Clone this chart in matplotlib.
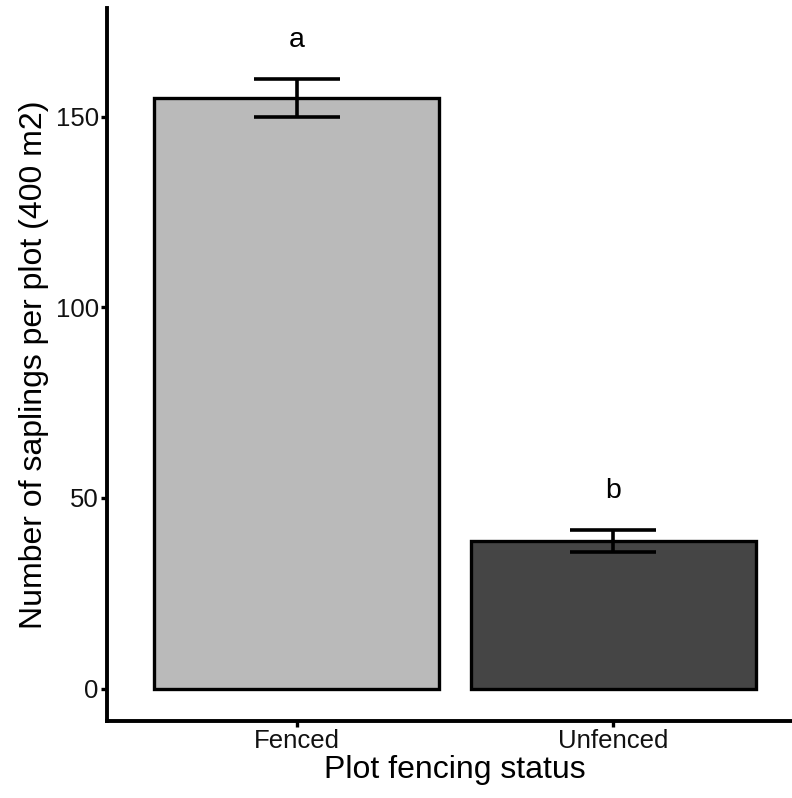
import matplotlib
matplotlib.use('Agg')
import matplotlib.pyplot as plt

# ── data ──
categories = ['Fenced', 'Unfenced']
means      = [155.0, 38.7]
se         = [5.0, 3.0]
letters    = ['a', 'b']
letter_y   = [170.0, 51.7]
y_ticks    = [0, 50, 100, 150]
bar_colors = ['#bababa', '#454545']

plt.rcParams['font.family'] = ['Liberation Sans', 'DejaVu Sans']

fig = plt.figure(figsize=(7.92, 7.98), dpi=100)
# panel runs slightly past the right edge, as in the reference
ax = fig.add_axes([107 / 792, 77 / 798, 696 / 792, 713 / 798])

x = list(range(1, len(categories) + 1))
ax.bar(x, means, width=0.9, color=bar_colors, edgecolor='black', linewidth=2.4, zorder=2)
ax.errorbar(x, means, yerr=se, fmt='none', ecolor='black', elinewidth=2.6,
            capsize=31, capthick=2.6, zorder=3)
for xi, lab, yy in zip(x, letters, letter_y):
    ax.text(xi, yy, lab, ha='center', va='center', fontsize=20.5, color='black')

ax.set_xlim(0.4, 2.6)
ax.set_ylim(-8.5, 178.5)
ax.set_xticks(x)
ax.set_xticklabels(categories)
ax.set_yticks(y_ticks)

for side in ['top', 'right']:
    ax.spines[side].set_visible(False)
for side in ['left', 'bottom']:
    ax.spines[side].set_linewidth(2.8)
    ax.spines[side].set_capstyle('projecting')
ax.tick_params(axis='both', length=4, width=2.4, color='black', labelsize=18.5,
               labelcolor='#111111', pad=2)

ax.set_xlabel('Plot fencing status', fontsize=23, labelpad=1)
ax.set_ylabel('Number of saplings per plot (400 m2)', fontsize=23, labelpad=5)

fig.savefig('out.png', dpi=100)
